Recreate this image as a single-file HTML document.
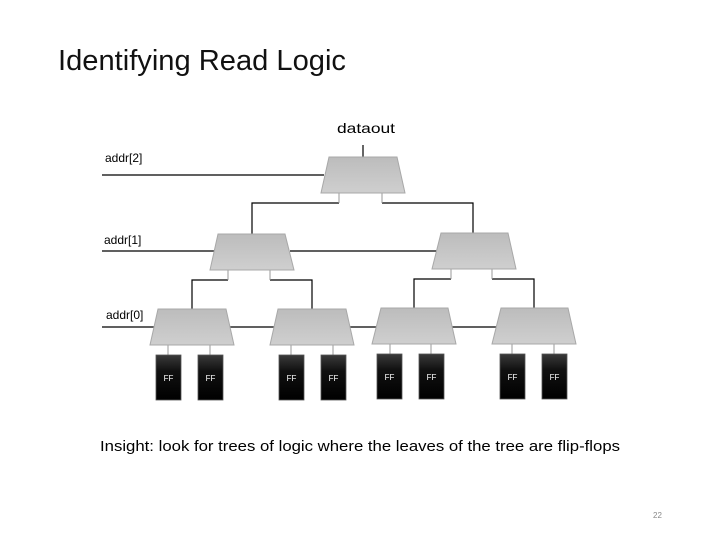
<!DOCTYPE html>
<html><head><meta charset="utf-8"><style>
html,body{margin:0;padding:0;background:#fff;}
svg{display:block;font-family:"Liberation Sans",sans-serif;}
</style></head><body>
<svg width="720" height="540" viewBox="0 0 720 540" xmlns="http://www.w3.org/2000/svg">
<defs>
<linearGradient id="mg" x1="0" y1="0" x2="0" y2="1"><stop offset="0" stop-color="#bcbcbc"/><stop offset="1" stop-color="#cfcfcf"/></linearGradient>
<linearGradient id="fg" x1="0" y1="0" x2="0" y2="1"><stop offset="0" stop-color="#3a3a3a"/><stop offset="0.35" stop-color="#111"/><stop offset="1" stop-color="#000"/></linearGradient>
</defs>
<text x="58" y="70" font-size="29" fill="#111" textLength="288" lengthAdjust="spacingAndGlyphs">Identifying Read Logic</text>
<text x="337" y="133" font-size="14" fill="#000" textLength="58" lengthAdjust="spacingAndGlyphs">dataout</text>
<text x="105" y="162" font-size="12" fill="#000">addr[2]</text>
<text x="104" y="244" font-size="12" fill="#000">addr[1]</text>
<text x="106" y="319" font-size="12" fill="#000">addr[0]</text>
<g stroke="#000" stroke-width="1.2" fill="none">
<line x1="363" y1="145" x2="363" y2="157"/>
<line x1="102" y1="175" x2="324" y2="175"/>
<polyline points="339,203 252,203 252,234"/>
<polyline points="382,203 473,203 473,233"/>
<line x1="102" y1="251" x2="214" y2="251"/>
<line x1="290" y1="251" x2="437" y2="251"/>
<polyline points="228,280 192,280 192,309"/>
<polyline points="270,280 312,280 312,309"/>
<polyline points="451,279 414,279 414,308"/>
<polyline points="492,279 534,279 534,308"/>
<line x1="102" y1="327" x2="155" y2="327"/>
<line x1="230" y1="327" x2="275" y2="327"/>
<line x1="350" y1="327" x2="378" y2="327"/>
<line x1="452" y1="327" x2="497" y2="327"/>
</g>
<g stroke="#999" stroke-width="1" fill="none">
<line x1="339" y1="193" x2="339" y2="203"/><line x1="382" y1="193" x2="382" y2="203"/>
<line x1="228" y1="270" x2="228" y2="280"/><line x1="270" y1="270" x2="270" y2="280"/>
<line x1="451" y1="269" x2="451" y2="279"/><line x1="492" y1="269" x2="492" y2="279"/>
<line x1="168" y1="345" x2="168" y2="355"/><line x1="210" y1="345" x2="210" y2="355"/>
<line x1="291" y1="345" x2="291" y2="355"/><line x1="333" y1="345" x2="333" y2="355"/>
<line x1="390" y1="344" x2="390" y2="354"/><line x1="431" y1="344" x2="431" y2="354"/>
<line x1="512" y1="344" x2="512" y2="354"/><line x1="554" y1="344" x2="554" y2="354"/>
</g>
<g fill="url(#mg)" stroke="#a8a8a8" stroke-width="1">
<polygon points="329,157 397,157 405,193 321,193"/>
<polygon points="218,234 285,234 294,270 210,270"/>
<polygon points="441,233 508,233 516,269 432,269"/>
<polygon points="158,309 226,309 234,345 150,345"/>
<polygon points="278,309 346,309 354,345 270,345"/>
<polygon points="381,308 448,308 456,344 372,344"/>
<polygon points="501,308 568,308 576,344 492,344"/>
</g>
<g fill="url(#fg)" stroke="#555" stroke-width="0.8">
<rect x="156" y="355" width="25" height="45"/>
<rect x="198" y="355" width="25" height="45"/>
<rect x="279" y="355" width="25" height="45"/>
<rect x="321" y="355" width="25" height="45"/>
<rect x="377" y="354" width="25" height="45"/>
<rect x="419" y="354" width="25" height="45"/>
<rect x="500" y="354" width="25" height="45"/>
<rect x="542" y="354" width="25" height="45"/>
</g>
<g fill="#fff" font-size="8" text-anchor="middle">
<text x="168.5" y="381">FF</text><text x="210.5" y="381">FF</text>
<text x="291.5" y="381">FF</text><text x="333.5" y="381">FF</text>
<text x="389.5" y="380">FF</text><text x="431.5" y="380">FF</text>
<text x="512.5" y="380">FF</text><text x="554.5" y="380">FF</text>
</g>
<text x="100" y="451" font-size="15" fill="#000" textLength="520" lengthAdjust="spacingAndGlyphs">Insight: look for trees of logic where the leaves of the tree are flip-flops</text>
<text x="653" y="518" font-size="8" fill="#888">22</text>
</svg>
</body></html>
